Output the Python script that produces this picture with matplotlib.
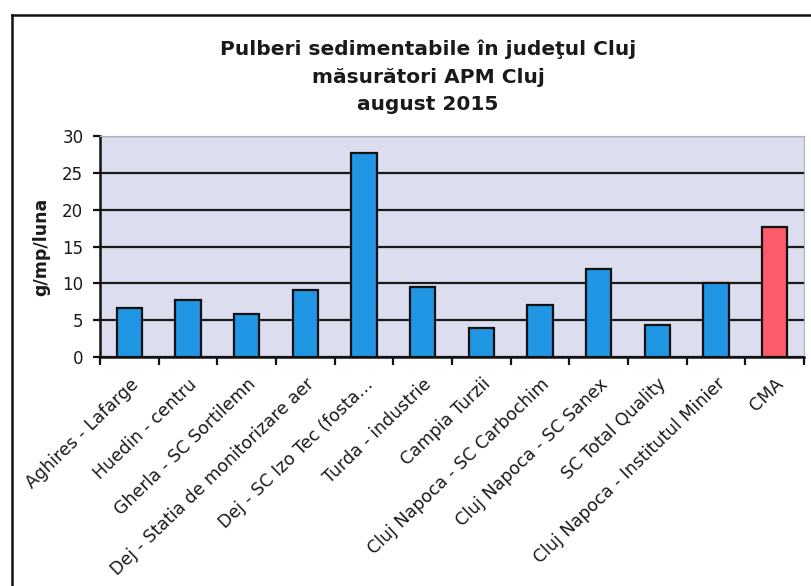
import matplotlib
matplotlib.use("Agg")
import matplotlib.pyplot as plt
import numpy as np
from matplotlib.lines import Line2D

categories = ["Aghires - Lafarge", "Huedin - centru", "Gherla - SC Sortilemn",
              "Dej - Statia de monitorizare aer", "Dej - SC Izo Tec (fosta…",
              "Turda - industrie", "Campia Turzii", "Cluj Napoca - SC Carbochim",
              "Cluj Napoca - SC Sanex", "SC Total Quality",
              "Cluj Napoca - Institutul Minier", "CMA"]
values = [6.6, 7.7, 5.8, 9.1, 27.7, 9.5, 3.9, 7.0, 11.9, 4.3, 10.0, 17.6]
bar_colors = ["#2196e4"] * 11 + ["#fa5c6a"]
title_lines = ["Pulberi sedimentabile în judeţul Cluj", "măsurători APM Cluj", "august 2015"]
y_label = "g/mp/luna"
y_ticks = [0, 5, 10, 15, 20, 25, 30]

plt.rcParams['font.family'] = ['DejaVu Sans']

W, H = 812, 586
fig = plt.figure(figsize=(W / 100, H / 100), dpi=100)
fig.patch.set_facecolor("white")

ax = fig.add_axes([100 / W, 1 - 357 / H, (804 - 100) / W, (357 - 136) / H])
ax.set_facecolor("#dcdef0")

x = np.arange(len(categories))
ax.bar(x, values, width=0.43, color=bar_colors, edgecolor="#111111", linewidth=1.6, zorder=3)

ax.set_xlim(-0.5, len(categories) - 0.5)
ax.set_ylim(0, 30)
ax.set_yticks(y_ticks)
ax.set_yticklabels([str(t) for t in y_ticks], fontsize=12, color="#1a1a1a")
ax.yaxis.grid(True, color="#1a1a1a", linewidth=1.6, zorder=1)
ax.set_axisbelow(True)

ax.set_xticks(x)
ax.set_xticklabels(categories, rotation=44, ha="right", rotation_mode="anchor",
                   fontsize=12.5, color="#1a1a1a")
ax.tick_params(axis="x", which="major", length=0, pad=13)
ax.set_xticks(np.arange(-0.5, len(categories), 1.0), minor=True)
ax.tick_params(axis="x", which="minor", length=6, width=1.6, direction="out", color="#111111")
ax.tick_params(axis="y", length=5, width=1.6, direction="out", color="#111111", pad=7)

for s in ["left", "bottom"]:
    ax.spines[s].set_color("#111111")
    ax.spines[s].set_linewidth(1.8)
for s in ["top", "right"]:
    ax.spines[s].set_color("#b0b0b8")
    ax.spines[s].set_linewidth(0.8)

ax.set_ylabel(y_label, fontsize=12.5, fontweight="bold", color="#1a1a1a")
ax.yaxis.set_label_coords((50 - 100) / (804 - 100), 0.5)

ys = [55, 83, 110]
for t, yy in zip(title_lines, ys):
    fig.text(428 / W, 1 - yy / H, t, ha="center", va="baseline", fontsize=14.5,
             fontweight="bold", color="#1a1a1a")

# outer chart frame (top-left corner visible)
fig.add_artist(Line2D([12 / W, 12 / W], [0, 1 - 15 / H], transform=fig.transFigure, color="#111111", linewidth=1.8))
fig.add_artist(Line2D([12 / W, 1], [1 - 15 / H, 1 - 15 / H], transform=fig.transFigure, color="#111111", linewidth=1.8))

fig.savefig("out.png", dpi=100)
